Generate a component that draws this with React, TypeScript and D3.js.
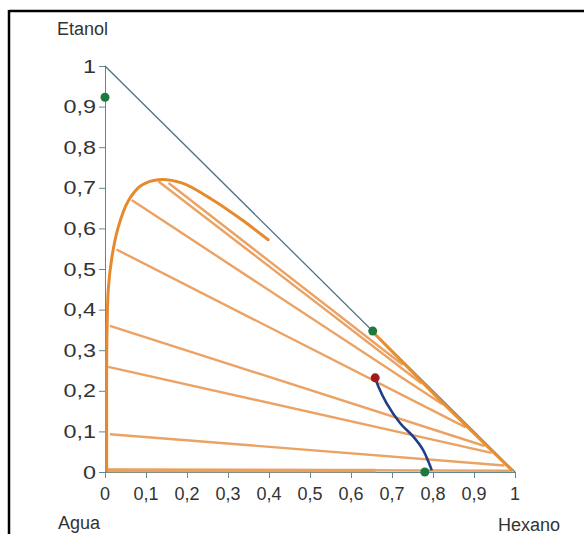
import React, { useEffect, useRef } from 'react';
import * as d3 from 'd3';

const W = 584
const H = 534

// ternary (right triangle) frame: x = Hexano, y = Etanol
const ticks = [0, 0.1, 0.2, 0.3, 0.4, 0.5, 0.6, 0.7, 0.8, 0.9, 1]
const tickLabels = ['0', '0,1', '0,2', '0,3', '0,4', '0,5', '0,6', '0,7', '0,8', '0,9', '1']

// binodal curve, water-rich branch: straight part on the base, then the curve
const binodalBase: [number, number][] = [[0.66, 0.004], [0.004, 0.004]]
const binodalLeft: [number, number][] = [
  [0.004, 0.004], [0.004, 0.1], [0.004, 0.25], [0.005, 0.35], [0.008, 0.45],
  [0.017, 0.53], [0.032, 0.602], [0.057, 0.668], [0.089, 0.706], [0.13, 0.72],
  [0.187, 0.712], [0.26, 0.672], [0.333, 0.622], [0.398, 0.572],
]

// hexane-rich branch
const binodalRight: [number, number][] = [
  [0.655, 0.343], [0.82, 0.174], [0.995, 0.002],
]

// tie lines: [x1, y1, x2, y2]
const tieLines: [number, number, number, number][] = [
  [0.004, 0.006, 0.99, 0.003],
  [0.012, 0.093, 0.974, 0.016],
  [0.008, 0.259, 0.943, 0.047],
  [0.012, 0.36, 0.926, 0.064],
  [0.028, 0.548, 0.88, 0.11],
  [0.065, 0.67, 0.824, 0.166],
  [0.13, 0.716, 0.772, 0.218],
  [0.155, 0.712, 0.726, 0.264],
]

// operating curve (blue)
const extractCurve: [number, number][] = [
  [0.659, 0.232], [0.667, 0.21], [0.687, 0.169], [0.72, 0.12],
  [0.752, 0.087], [0.776, 0.054], [0.789, 0.025], [0.797, 0.004],
]

const greenPoints: [number, number][] = [[0, 0.923], [0.653, 0.347], [0.78, 0]]
const redPoints: [number, number][] = [[0.659, 0.232]]

const font = 'Liberation Sans, Arial, sans-serif'

const App = () => {
  const ref = useRef<SVGSVGElement>(null)

  useEffect(() => {
    if (!ref.current) return
    const svg = d3.select(ref.current)
    svg.selectAll('*').remove()

    const x = d3.scaleLinear().domain([0, 1]).range([105, 515])
    const y = d3.scaleLinear().domain([0, 1]).range([472, 66])

    // outer frame (top + left)
    svg.append('line').attr('x1', 9).attr('x2', W).attr('y1', 11).attr('y2', 11)
      .attr('stroke', '#000').attr('stroke-width', 2.5)
    svg.append('line').attr('x1', 9).attr('x2', 9).attr('y1', 10).attr('y2', H)
      .attr('stroke', '#000').attr('stroke-width', 2.5)

    const axisColor = '#5f8796'

    // y axis
    const yAxis = d3.axisLeft(y).tickValues(ticks).tickSize(6).tickFormat(() => '')
    const gy = svg.append('g').attr('transform', `translate(${x(0)},0)`).call(yAxis)
    gy.selectAll('path, line').attr('stroke', axisColor)

    // x axis
    const xAxis = d3.axisBottom(x).tickValues(ticks).tickSize(6).tickFormat(() => '')
    const gx = svg.append('g').attr('transform', `translate(0,${y(0)})`).call(xAxis)
    gx.selectAll('path, line').attr('stroke', axisColor)

    // y tick labels (wide glyphs in the original)
    svg.append('g').selectAll('text').data(ticks).enter().append('text')
      .attr('transform', d => `translate(96,${y(d) + 6.5}) scale(1.3,1)`)
      .attr('text-anchor', 'end')
      .attr('font-family', font).attr('font-size', 18).attr('fill', '#333')
      .text((d, i) => tickLabels[i])

    // x tick labels
    svg.append('g').selectAll('text').data(ticks).enter().append('text')
      .attr('x', d => x(d)).attr('y', 500)
      .attr('text-anchor', 'middle')
      .attr('font-family', font).attr('font-size', 18).attr('fill', '#333')
      .text((d, i) => tickLabels[i])

    // hypotenuse
    svg.append('line')
      .attr('x1', x(0)).attr('y1', y(1)).attr('x2', x(1)).attr('y2', y(0))
      .attr('stroke', '#4f7383').attr('stroke-width', 1.3)

    // tie lines
    svg.append('g').selectAll('line').data(tieLines).enter().append('line')
      .attr('x1', d => x(d[0])).attr('y1', d => y(d[1]))
      .attr('x2', d => x(d[2])).attr('y2', d => y(d[3]))
      .attr('stroke', '#eba263').attr('stroke-width', 2.4)

    const line = d3.line<[number, number]>()
      .x(d => x(d[0])).y(d => y(d[1]))

    svg.append('path').datum(binodalBase)
      .attr('d', line.curve(d3.curveLinear))
      .attr('fill', 'none').attr('stroke', '#eda05a').attr('stroke-width', 3.5)

    svg.append('path').datum(binodalLeft)
      .attr('d', line.curve(d3.curveCatmullRom.alpha(0.5)))
      .attr('fill', 'none').attr('stroke', '#e6892f').attr('stroke-width', 3)
      .attr('stroke-linecap', 'round')

    svg.append('path').datum(binodalRight)
      .attr('d', line.curve(d3.curveLinear))
      .attr('fill', 'none').attr('stroke', '#e8902f').attr('stroke-width', 3)

    svg.append('path').datum(extractCurve)
      .attr('d', line.curve(d3.curveCatmullRom.alpha(0.5)))
      .attr('fill', 'none').attr('stroke', '#1f3f86').attr('stroke-width', 2.6)

    svg.append('g').selectAll('circle').data(greenPoints).enter().append('circle')
      .attr('cx', d => x(d[0])).attr('cy', d => y(d[1])).attr('r', 4.5)
      .attr('fill', '#1d7a3e')

    svg.append('g').selectAll('circle').data(redPoints).enter().append('circle')
      .attr('cx', d => x(d[0])).attr('cy', d => y(d[1])).attr('r', 4.5)
      .attr('fill', '#a3191c')

    // component names
    const names = [
      { t: 'Etanol', x: 57, y: 35 },
      { t: 'Agua', x: 58, y: 529 },
      { t: 'Hexano', x: 498, y: 531 },
    ]
    svg.append('g').selectAll('text').data(names).enter().append('text')
      .attr('x', d => d.x).attr('y', d => d.y)
      .attr('font-family', font).attr('font-size', 18).attr('fill', '#333')
      .text(d => d.t)
  }, [])

  return (
    <svg
      ref={ref}
      width={W}
      height={H}
      style={{ position: 'absolute', left: 0, top: 0, background: '#fff' }}
    ></svg>
  )
}

export default App
